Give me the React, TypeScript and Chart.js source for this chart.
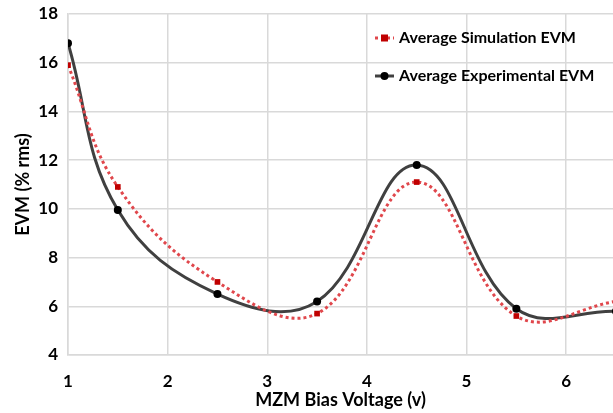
import React, { useEffect, useRef } from "react";
import { Chart, registerables } from "chart.js";

Chart.register(...registerables);

const xValues = [1, 1.5, 2.5, 3.5, 4.5, 5.5, 6.5];
const simulationEVM = [15.9, 10.9, 7.0, 5.7, 11.1, 5.6, 6.2];
const experimentalEVM = [16.8, 9.95, 6.5, 6.2, 11.8, 5.9, 5.8];
const xTickValues = [1, 2, 3, 4, 5, 6];
const seriesNames = ["Average Simulation EVM", "Average Experimental EVM"];
const xTitle = "MZM Bias Voltage (v)";
const yTitle = "EVM (% rms)";

const FONT = "Lato";
const SIM_LINE = "#e0474c";
const SIM_MARK = "#c00000";
const EXP_LINE = "#404040";
const EXP_MARK = "#000000";

const legendPlugin = {
  id: "insideLegend",
  afterDraw(chart: any) {
    const ctx = chart.ctx;
    ctx.save();
    const rows = [
      { y: 38, name: seriesNames[0], sim: true },
      { y: 76, name: seriesNames[1], sim: false },
    ];
    const x0 = 375;
    const x1 = 394;
    for (const r of rows) {
      ctx.lineWidth = 3;
      if (r.sim) {
        ctx.strokeStyle = SIM_LINE;
        ctx.setLineDash([3, 3]);
      } else {
        ctx.strokeStyle = EXP_LINE;
        ctx.setLineDash([]);
      }
      ctx.beginPath();
      ctx.moveTo(x0, r.y);
      ctx.lineTo(x1, r.y);
      ctx.stroke();
      ctx.setLineDash([]);
      const cx = (x0 + x1) / 2;
      if (r.sim) {
        ctx.fillStyle = SIM_MARK;
        ctx.fillRect(cx - 3.5, r.y - 3.5, 7, 7);
      } else {
        ctx.fillStyle = EXP_MARK;
        ctx.beginPath();
        ctx.arc(cx, r.y, 4, 0, Math.PI * 2);
        ctx.fill();
      }
      ctx.fillStyle = "#000";
      ctx.font = `bold 16px ${FONT}`;
      ctx.textBaseline = "middle";
      ctx.textAlign = "left";
      ctx.fillText(r.name, 399, r.y);
    }
    ctx.restore();
  },
};

export default function App() {
  const ref = useRef<HTMLCanvasElement | null>(null);
  useEffect(() => {
    document.body.style.margin = "0";
    const canvas = ref.current!;
    const chart = new Chart(canvas, {
      type: "line",
      data: {
        datasets: [
          {
            label: seriesNames[0],
            data: xValues.map((x, i) => ({ x, y: simulationEVM[i] })),
            borderColor: SIM_LINE,
            borderWidth: 3,
            borderDash: [3, 3],
            pointStyle: "rect",
            pointRadius: 4,
            pointBackgroundColor: SIM_MARK,
            pointBorderColor: SIM_MARK,
            pointBorderWidth: 0,
            tension: 0.4,
            fill: false,
            clip: 0,
          },
          {
            label: seriesNames[1],
            data: xValues.map((x, i) => ({ x, y: experimentalEVM[i] })),
            borderColor: EXP_LINE,
            borderWidth: 3,
            pointStyle: "circle",
            pointRadius: 4,
            pointBackgroundColor: EXP_MARK,
            pointBorderColor: EXP_MARK,
            pointBorderWidth: 0,
            tension: 0.4,
            fill: false,
            clip: 0,
          },
        ],
      },
      options: {
        animation: false,
        responsive: false,
        maintainAspectRatio: false,
        layout: { autoPadding: false, padding: { top: 14, right: 0, left: 0, bottom: 0 } },
        plugins: {
          legend: { display: false },
          tooltip: { enabled: false },
        },
        scales: {
          x: {
            type: "linear",
            min: 1,
            max: 6.47,
            afterBuildTicks: (scale: any) => {
              scale.ticks = xTickValues.map((v) => ({ value: v }));
            },
            afterFit: (scale: any) => {
              scale.height = 58;
              scale.paddingLeft = 0;
              scale.paddingRight = 0;
            },
            ticks: {
              color: "#000",
              font: { family: FONT, weight: "bold", size: 17 },
              padding: 16,
              maxRotation: 0,
            },
            grid: { color: "#d9d9d9", lineWidth: 1.5, drawTicks: false },
            border: { color: "#d9d9d9", width: 1.5 },
            title: {
              display: true,
              text: xTitle,
              color: "#000",
              font: { family: FONT, weight: "bold", size: 18 },
              padding: { top: 0, bottom: 2 },
            },
          },
          y: {
            type: "linear",
            min: 4,
            max: 18,
            afterFit: (scale: any) => {
              scale.width = 68;
              scale.paddingTop = 0;
              scale.paddingBottom = 0;
            },
            ticks: {
              stepSize: 2,
              color: "#000",
              font: { family: FONT, weight: "bold", size: 17 },
              padding: 10,
            },
            grid: { color: "#d9d9d9", lineWidth: 1.5, drawTicks: false },
            border: { color: "#d9d9d9", width: 1.5 },
            title: {
              display: true,
              text: yTitle,
              color: "#000",
              font: { family: FONT, weight: "bold", size: 18 },
              padding: { top: 12, bottom: 0 },
            },
          },
        },
      },
      plugins: [legendPlugin],
    } as any);
    return () => chart.destroy();
  }, []);
  return (
    <div style={{ position: "fixed", left: 0, top: 0, width: 613, height: 413 }}>
      <canvas ref={ref} width={613} height={413} style={{ width: 613, height: 413 }} />
    </div>
  );
}
